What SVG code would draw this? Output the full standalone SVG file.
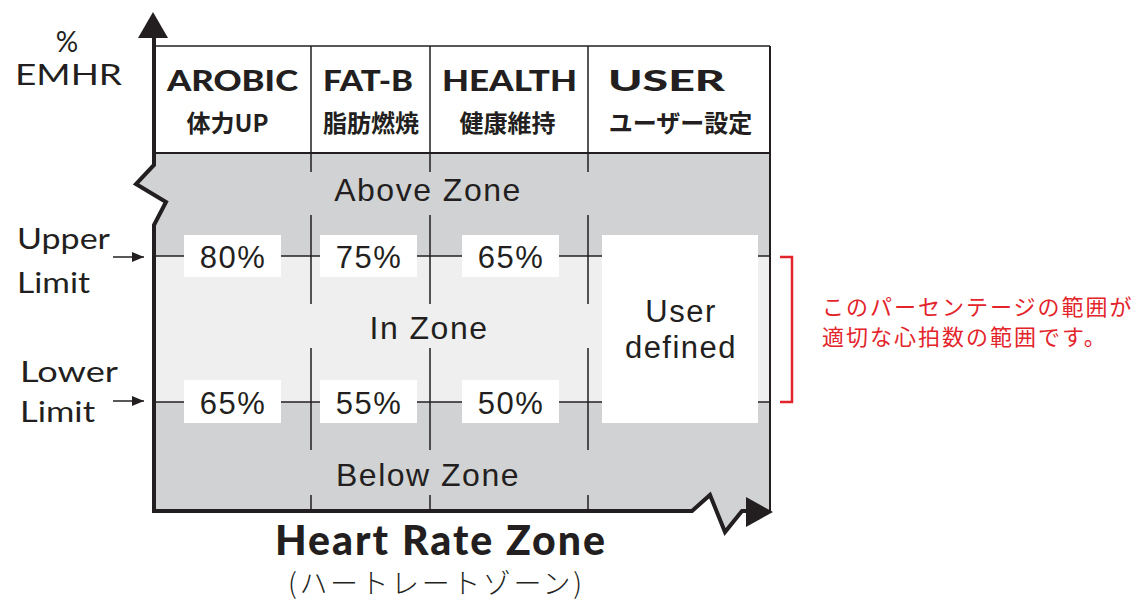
<svg xmlns="http://www.w3.org/2000/svg" width="1139" height="603" viewBox="0 0 1139 603">
<style>
.ln{stroke:#231f20;stroke-width:1.5;fill:none}
.ax{stroke:#231f20;stroke-width:4;fill:none;stroke-linejoin:miter}
.hd{font-family:Lato,"Liberation Sans",sans-serif;font-weight:900;font-size:29px;fill:#231f20;text-anchor:middle}
.jp{font-family:"Noto Sans CJK JP",sans-serif;font-weight:bold;font-size:24px;fill:#231f20;text-anchor:middle}
.lb{font-family:Lato,"Liberation Sans",sans-serif;font-size:28px;fill:#231f20}
.pc{font-family:"Liberation Sans",Arial,sans-serif;font-size:31px;fill:#231f20;text-anchor:middle;letter-spacing:1.5px}
.zn{font-family:"Liberation Sans",Arial,sans-serif;font-size:32px;fill:#231f20;text-anchor:middle;letter-spacing:1.5px}
.box{fill:#ffffff}
.red{font-family:"Noto Sans CJK JP",sans-serif;font-size:22px;fill:#e3242b;letter-spacing:2px}
</style>
<defs>
<marker id="ah" markerWidth="12" markerHeight="10" refX="12" refY="5" orient="auto" markerUnits="userSpaceOnUse">
<path d="M0,0 L12,5 L0,10 Z" fill="#231f20"/>
</marker>
</defs>
<rect width="1139" height="603" fill="#ffffff"/>
<g id="chart-area">
<polygon points="154,153 770,153 770,511 742,511 725,532 710,495 692,511 154,511 154,225 166,202 136,184 154,165" fill="#d1d2d4"/>
<rect x="154" y="256" width="616" height="146" fill="#efefef"/>
<rect x="154" y="46" width="616" height="107" fill="#ffffff"/>
</g>
<g id="grid" class="ln">
<line x1="154" y1="46" x2="770" y2="46"/>
<line x1="154" y1="153" x2="770" y2="153" stroke-width="2"/>
<line x1="770" y1="46" x2="770" y2="511" stroke-width="2"/>
<line x1="154" y1="256" x2="770" y2="256"/>
<line x1="154" y1="402" x2="770" y2="402"/>
<path d="M311,46 V172 M311,215 V304 M311,348 V450 M311,495 V511"/>
<path d="M430,46 V172 M430,215 V304 M430,348 V450 M430,495 V511"/>
<path d="M588,46 V172 M588,215 V304 M588,348 V450 M588,495 V511"/>
</g>
<g id="axes">
<path class="ax" d="M154,37 V165 L136,184 L166,202 L154,225 V511 H692 L710,495 L725,532 L742,511 H750"/>
<polygon points="153,12 138,38 168,38" fill="#231f20"/>
<polygon points="773,512 746,497 746,527" fill="#231f20"/>
</g>
<g id="header">
<text class="hd" x="232.5" y="91" textLength="131" lengthAdjust="spacingAndGlyphs">AROBIC</text>
<text class="hd" x="368" y="91" textLength="90" lengthAdjust="spacingAndGlyphs">FAT-B</text>
<text class="hd" x="509.5" y="91" textLength="135" lengthAdjust="spacingAndGlyphs">HEALTH</text>
<text class="hd" x="666.5" y="91" textLength="117" lengthAdjust="spacingAndGlyphs">USER</text>
<text class="jp" x="227.5" y="132">体力UP</text>
<text class="jp" x="371" y="132">脂肪燃焼</text>
<text class="jp" x="507.5" y="132">健康維持</text>
<text class="jp" x="680.5" y="132">ユーザー設定</text>
</g>
<g id="y-label">
<text class="lb" x="67" y="52" font-size="36" text-anchor="middle">%</text>
<text class="lb" x="15" y="85" font-size="33" textLength="107" lengthAdjust="spacingAndGlyphs">EMHR</text>
</g>
<g id="upper-limit">
<text class="lb" x="17" y="249" font-size="29" textLength="93" lengthAdjust="spacingAndGlyphs">Upper</text>
<text class="lb" x="17" y="293" font-size="29" textLength="73" lengthAdjust="spacingAndGlyphs">Limit</text>
<line x1="113" y1="257" x2="144" y2="257" stroke="#231f20" stroke-width="1.5" marker-end="url(#ah)"/>
</g>
<g id="lower-limit">
<text class="lb" x="20" y="382" font-size="31" textLength="98" lengthAdjust="spacingAndGlyphs">Lower</text>
<text class="lb" x="20" y="422" font-size="31" textLength="75" lengthAdjust="spacingAndGlyphs">Limit</text>
<line x1="113" y1="401" x2="144" y2="401" stroke="#231f20" stroke-width="1.5" marker-end="url(#ah)"/>
</g>
<g id="zones">
<text class="zn" x="428" y="201">Above Zone</text>
<text class="zn" x="429" y="339">In Zone</text>
<text class="zn" x="428" y="486">Below Zone</text>
</g>
<g id="upper-values">
<rect class="box" x="184" y="235" width="97" height="42"/>
<text class="pc" x="233" y="268">80%</text>
<rect class="box" x="320" y="235" width="97" height="42"/>
<text class="pc" x="369" y="268">75%</text>
<rect class="box" x="462" y="235" width="97" height="42"/>
<text class="pc" x="511" y="268">65%</text>
</g>
<g id="lower-values">
<rect class="box" x="184" y="380" width="97" height="43"/>
<text class="pc" x="233" y="414">65%</text>
<rect class="box" x="320" y="380" width="97" height="43"/>
<text class="pc" x="369" y="414">55%</text>
<rect class="box" x="462" y="380" width="97" height="43"/>
<text class="pc" x="511" y="414">50%</text>
</g>
<g id="user-defined">
<rect class="box" x="602" y="235" width="156" height="188"/>
<text class="pc" x="681" y="322">User</text>
<text class="pc" x="681" y="358">defined</text>
</g>
<g id="note">
<path d="M780,257 H792 V402 H780" fill="none" stroke="#e3242b" stroke-width="2.5"/>
<text class="red" x="822" y="315">このパーセンテージの範囲が</text>
<text class="red" x="822" y="345">適切な心拍数の範囲です。</text>
</g>
<g id="title">
<text x="440" y="555" font-family="Lato, 'Liberation Sans', sans-serif" font-weight="900" font-size="41" fill="#231f20" text-anchor="middle" textLength="330">Heart Rate Zone</text>
<text x="435" y="594" font-family="'Noto Sans CJK JP', sans-serif" font-weight="300" font-size="28" fill="#231f20" text-anchor="middle" textLength="294">(ハートレートゾーン)</text>
</g>
</svg>
